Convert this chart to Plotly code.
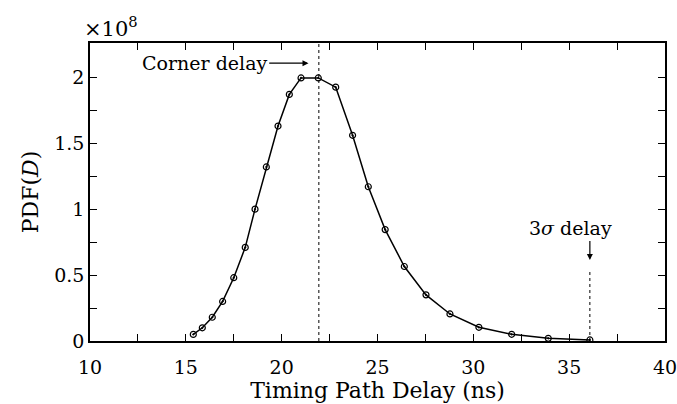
import plotly.graph_objects as go

delay_ns = [15.39, 15.86, 16.38, 16.92, 17.50, 18.10, 18.61, 19.20, 19.81, 20.40,
            21.01, 21.91, 22.82, 23.70, 24.52, 25.40, 26.40, 27.53, 28.78, 30.29,
            32.00, 33.91, 36.08]
pdf_e8 = [0.05, 0.10, 0.18, 0.30, 0.48, 0.71, 1.00, 1.32, 1.63, 1.87,
          1.995, 1.995, 1.925, 1.56, 1.17, 0.845, 0.565, 0.35, 0.205, 0.104,
          0.051, 0.02, 0.008]
corner_delay = 21.94
sigma3_delay = 36.08

x_ticks = [10, 12.5, 15, 17.5, 20, 22.5, 25, 27.5, 30, 32.5, 35, 37.5, 40]
x_labels = ["10", "", "15", "", "20", "", "25", "", "30", "", "35", "", "40"]
y_ticks = [0, 0.25, 0.5, 0.75, 1, 1.25, 1.5, 1.75, 2]
y_labels = ["0", "", "0.5", "", "1", "", "1.5", "", "2"]

FONT = "DejaVu Serif"

fig = go.Figure()
fig.add_trace(go.Scatter(
    x=delay_ns, y=pdf_e8, mode="lines+markers",
    line=dict(color="black", width=1.5),
    marker=dict(symbol="circle-open-dot", size=6, color="black", line=dict(width=1.2)),
    showlegend=False,
))
fig.add_trace(go.Scatter(
    x=[corner_delay, corner_delay], y=[0, 2.26], mode="lines",
    line=dict(color="black", width=1, dash="dot"), showlegend=False))
fig.add_trace(go.Scatter(
    x=[sigma3_delay, sigma3_delay], y=[0, 0.53], mode="lines",
    line=dict(color="black", width=1, dash="dot"), showlegend=False))

L, R, T, B = 90, 665, 43, 340.7
annotations = [
    dict(x=21.4, y=2.107, ax=19.35, ay=2.107, axref="x", ayref="y", xref="x", yref="y",
         text="Corner delay", showarrow=True, arrowhead=2, arrowsize=1, arrowwidth=1.2,
         arrowcolor="black", xanchor="right", yanchor="middle", standoff=0,
         font=dict(family=FONT, size=19, color="black")),
    dict(x=sigma3_delay, y=0.615, ax=sigma3_delay, ay=0.77, axref="x", ayref="y", xref="x", yref="y",
         text="", showarrow=True, arrowhead=2, arrowsize=1, arrowwidth=1.2, arrowcolor="black"),
    dict(x=35.05, y=0.855, xref="x", yref="y", text="3<i>σ</i> delay", showarrow=False,
         xanchor="center", yanchor="middle", font=dict(family=FONT, size=19, color="black")),
    dict(x=(82 - L) / (R - L), y=(B - 27) / (B - T), xref="paper", yref="paper",
         text="×10<sup>8</sup>", showarrow=False,
         xanchor="left", yanchor="middle", font=dict(family=FONT, size=21, color="black")),
]

fig.update_layout(
    template="none",
    width=677, height=404,
    margin=dict(l=L, r=677 - R, t=T, b=404 - B),
    paper_bgcolor="white", plot_bgcolor="white",
    font=dict(family=FONT, size=19, color="black"),
    annotations=annotations,
    xaxis=dict(range=[10, 40], tickvals=x_ticks, ticktext=x_labels, automargin=False,
               ticklabeloverflow="allow", ticklabelstandoff=8,
               ticks="inside", ticklen=7, tickwidth=1.2, tickcolor="black",
               showline=True, linecolor="black", linewidth=1.5, mirror="ticks",
               showgrid=False, zeroline=False,
               title=dict(text="Timing Path Delay (ns)", standoff=2, font=dict(size=22))),
    yaxis=dict(range=[0, 2.26], tickvals=y_ticks, ticktext=y_labels, automargin=False,
               ticklabeloverflow="allow",
               ticks="inside", ticklen=7, tickwidth=1.2, tickcolor="black",
               showline=True, linecolor="black", linewidth=1.5, mirror="ticks",
               showgrid=False, zeroline=False,
               title=dict(text="PDF(<i>D</i>)", standoff=10, font=dict(size=22))),
)
fig.write_html("out.html")
